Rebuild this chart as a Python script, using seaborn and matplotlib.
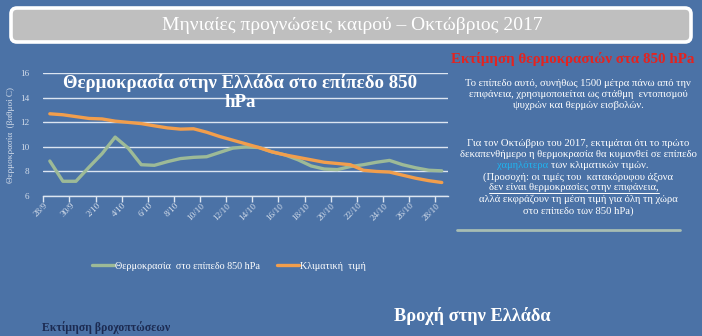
import numpy as np
import pandas as pd
import matplotlib
matplotlib.use("Agg")
import matplotlib.pyplot as plt
import seaborn as sns
from matplotlib.patches import FancyBboxPatch

# ---- data -------------------------------------------------------------
dates = ["28/9", "29/9", "30/9", "1/10", "2/10", "3/10", "4/10", "5/10",
         "6/10", "7/10", "8/10", "9/10", "10/10", "11/10", "12/10", "13/10",
         "14/10", "15/10", "16/10", "17/10", "18/10", "19/10", "20/10",
         "21/10", "22/10", "23/10", "24/10", "25/10", "26/10", "27/10", "28/10"]

temp_850 = [8.85, 7.2, 7.2, 8.35, 9.45, 10.8, 9.9, 8.55, 8.5, 8.8, 9.05,
            9.15, 9.2, 9.55, 9.9, 10.0, 9.95, 9.6, 9.35, 8.95, 8.45, 8.2,
            8.15, 8.4, 8.55, 8.75, 8.9, 8.55, 8.3, 8.1, 8.05]

climate = [12.7, 12.62, 12.47, 12.32, 12.28, 12.1, 12.0, 11.9, 11.72, 11.55,
           11.45, 11.48, 11.2, 10.85, 10.55, 10.25, 9.95, 9.6, 9.35, 9.15,
           8.95, 8.75, 8.65, 8.55, 8.1, 8.0, 7.95, 7.7, 7.45, 7.25, 7.1]

series_names = ["Θερμοκρασία  στο επίπεδο 850 hPa", "Κλιματική  τιμή"]
y_ticks = [6, 8, 10, 12, 14, 16]

# ---- style ------------------------------------------------------------
BG = "#4B72A6"
GREEN = "#9DBA97"
ORANGE = "#F29E4C"
GRID = "#DCE5F1"
SOFT = "#D5DEEB"
W, H = 702, 336

sns.set_theme(style="white")
plt.rcParams["font.family"] = ["Liberation Serif", "DejaVu Serif"]

fig = plt.figure(figsize=(W / 100, H / 100), dpi=100)
fig.patch.set_facecolor(BG)

# ---- line chart -------------------------------------------------------
n = len(dates)
df = pd.DataFrame({
    "day": list(range(n)) * 2,
    "value": temp_850 + climate,
    "series": [series_names[0]] * n + [series_names[1]] * n,
})

ax = fig.add_axes([43.3 / W, 1 - 196 / H, 405 / W, 122.7 / H])
ax.set_facecolor("none")
sns.lineplot(data=df, x="day", y="value", hue="series",
             palette=[GREEN, ORANGE], linewidth=2.4, ax=ax)

ax.set_xlim(-0.5, n - 0.5)
ax.set_ylim(6, 16)
ax.set_yticks(y_ticks)
ax.yaxis.grid(True, color=GRID, linewidth=1)
ax.xaxis.grid(False)
ax.set_axisbelow(True)
for side in ("left", "right", "top"):
    ax.spines[side].set_visible(False)
ax.spines["bottom"].set_color(GRID)
ax.spines["bottom"].set_linewidth(1)

# tick marks on category boundaries, labels under every second day
ax.set_xticks(np.arange(-0.5, n - 1, 2))
ax.set_xticklabels([])
ax.set_xticks(np.arange(0, n, 2), minor=True)
ax.set_xticklabels(dates[::2], minor=True, rotation=45, ha="right",
                   fontsize=6.6, color=SOFT)
ax.tick_params(axis="x", which="major", bottom=True, length=4,
               width=1, color=GRID, direction="out")
ax.tick_params(axis="x", which="minor", bottom=True, length=0, pad=4)
ax.tick_params(axis="y", left=False, length=0, pad=10, labelsize=6.6,
               labelcolor=SOFT)

ax.set_xlabel("")
ax.set_ylabel("Θερμοκρασία  (βαθμοί C)", fontsize=6.6, color=SOFT)
ax.yaxis.set_label_coords((15 - 43.3) / 405, 0.5)

sns.move_legend(ax, "center", bbox_to_anchor=((229 - 43.3) / 405, (196 - 266) / 122.7),
                ncol=2, frameon=False, title=None, fontsize=7.3,
                handlelength=2.2, handletextpad=0.1, columnspacing=1.6)
for t in ax.get_legend().get_texts():
    t.set_color("white")

# ---- page overlay (pixel coordinates) ---------------------------------
ov = fig.add_axes([0, 0, 1, 1], zorder=5)
ov.set_xlim(0, W)
ov.set_ylim(H, 0)
ov.axis("off")
ov.patch.set_alpha(0)

banner = FancyBboxPatch((11, 8), 680, 34,
                        boxstyle="round,pad=0,rounding_size=6",
                        facecolor="#BFBFBF", edgecolor="white", linewidth=2.6)
ov.add_patch(banner)
ov.text(352, 25, "Μηνιαίες προγνώσεις καιρού – Οκτώβριος 2017",
        ha="center", va="center", color="white", fontsize=14)

ov.text(240, 92.5, "Θερμοκρασία στην Ελλάδα στο επίπεδο 850\nhPa",
        ha="center", va="center", color="white", fontsize=13.6,
        fontweight="bold", linespacing=1.1)

# right-hand notes
ov.text(451, 59, "Εκτίμηση θερμοκρασιών στα 850 hPa", ha="left",
        va="center", color="#E5231F", fontsize=10.8, fontweight="bold")

CX = 578
FS = 7.7
notes = [
    (83, "Το επίπεδο αυτό, συνήθως 1500 μέτρα πάνω από την"),
    (94.5, "επιφάνεια, χρησιμοποιείται ως στάθμη  εντοπισμού"),
    (106, "ψυχρών και θερμών εισβολών."),
    (143, "Για τον Οκτώβριο του 2017, εκτιμάται ότι το πρώτο"),
    (154.5, "δεκαπενθήμερο η θερμοκρασία θα κυμανθεί σε επίπεδο"),
    (177, "(Προσοχή: οι τιμές του  κατακόρυφου άξονα"),
    (199.5, "αλλά εκφράζουν τη μέση τιμή για όλη τη χώρα"),
    (211, "στο επίπεδο των 850 hPa)"),
]
for y, line in notes:
    ov.text(CX, y, line, ha="center", va="center", color="white", fontsize=FS)

ov.text(548, 166, "χαμηλότερα", ha="right", va="center", color="#1FB4F0",
        fontsize=FS)
ov.text(551, 166, "των κλιματικών τιμών.", ha="left", va="center",
        color="white", fontsize=FS)

warn = ov.text(CX - 4, 188, "δεν είναι θερμοκρασίες στην επιφάνεια,",
               ha="center", va="center", color="white", fontsize=FS)
fig.canvas.draw()
bb = warn.get_window_extent().transformed(ov.transData.inverted())
ov.plot([bb.x0, bb.x1], [192.5, 192.5], color="white", linewidth=0.7)

ov.plot([457, 680], [230, 230], color="#A7BDB3", linewidth=2)

# lower section headings
ov.text(394, 316, "Βροχή στην Ελλάδα", ha="left", va="center",
        color="white", fontsize=13.2, fontweight="bold")
ov.text(42, 328, "Εκτίμηση βροχοπτώσεων", ha="left", va="center",
        color="#1C2B52", fontsize=8.5, fontweight="bold")

fig.savefig("out.png", dpi=100, facecolor=BG)
